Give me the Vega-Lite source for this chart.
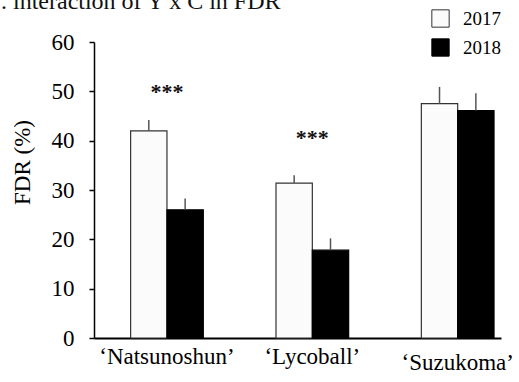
{
  "$schema": "https://vega.github.io/schema/vega-lite/v6.json",
  "width": 407,
  "height": 296,
  "autosize": {"type": "none"},
  "padding": {"left": 94, "top": 42, "right": 18, "bottom": 44},
  "background": "white",
  "config": {
    "font": "Liberation Serif",
    "view": {"stroke": null},
    "axis": {"grid": false, "labelFont": "Liberation Serif", "titleFont": "Liberation Serif"},
    "legend": {"labelFont": "Liberation Serif"},
    "text": {"font": "Liberation Serif"}
  },
  "title": {
    "text": ". interaction of Y x C in FDR",
    "anchor": "start",
    "frame": "group",
    "font": "Liberation Serif",
    "fontSize": 24,
    "fontWeight": "normal",
    "color": "#111111",
    "baseline": "alphabetic",
    "offset": 0,
    "dx": -93,
    "dy": 24
  },
  "datasets": {
    "fdr": [
      {"cultivar": "‘Natsunoshun’", "year": "2017", "fdr": 42.0, "upper": 44.2},
      {"cultivar": "‘Natsunoshun’", "year": "2018", "fdr": 26.0, "upper": 28.3},
      {"cultivar": "‘Lycoball’", "year": "2017", "fdr": 31.4, "upper": 33.0},
      {"cultivar": "‘Lycoball’", "year": "2018", "fdr": 17.8, "upper": 20.2},
      {"cultivar": "‘Suzukoma’", "year": "2017", "fdr": 47.5, "upper": 50.9},
      {"cultivar": "‘Suzukoma’", "year": "2018", "fdr": 46.1, "upper": 49.6}
    ],
    "signif": [
      {"cultivar": "‘Natsunoshun’", "pos": 49.9, "mark": "***"},
      {"cultivar": "‘Lycoball’", "pos": 40.5, "mark": "***"}
    ]
  },
  "encoding": {
    "x": {
      "field": "cultivar",
      "type": "nominal",
      "sort": ["‘Natsunoshun’", "‘Lycoball’", "‘Suzukoma’"],
      "scale": {"paddingInner": 0.5, "paddingOuter": 0.15, "align": 0.84},
      "axis": {
        "title": null,
        "ticks": false,
        "labelAngle": 0,
        "labelFont": "Liberation Serif",
        "labelFontSize": 23,
        "labelColor": "black",
        "labelPadding": {"condition": {"test": "datum.value === '‘Suzukoma’'", "value": 13}, "value": 7},
        "domainColor": "black",
        "domainWidth": 2
      }
    }
  },
  "layer": [
    {
      "data": {"name": "fdr"},
      "mark": {"type": "bar", "strokeWidth": 1.2},
      "encoding": {
        "xOffset": {"field": "year", "type": "nominal", "scale": {"paddingInner": 0, "paddingOuter": 0}},
        "y": {
          "field": "fdr",
          "type": "quantitative",
          "scale": {"domain": [0, 60], "nice": false},
          "axis": {
            "values": [0, 10, 20, 30, 40, 50, 60],
            "title": "FDR (%)",
            "titleFont": "Liberation Serif",
            "titleFontSize": 23,
            "titleFontWeight": "normal",
            "titleColor": "black",
            "titleAngle": -90,
            "titleAlign": "center",
            "titleBaseline": "middle",
            "titleX": -72,
            "titleY": 120,
            "labelFont": "Liberation Serif",
            "labelFontSize": 23,
            "labelColor": "black",
            "labelPadding": 15,
            "tickSize": 5,
            "tickColor": "black",
            "tickWidth": 1.5,
            "domainColor": "black",
            "domainWidth": 1.5
          }
        },
        "fill": {
          "field": "year",
          "type": "nominal",
          "scale": {"domain": ["2017", "2018"], "range": ["#fbfbfb", "#000000"]},
          "legend": {"orient": "none", "legendX": 337, "legendY": -33, "title": null, "symbolType": "square", "symbolSize": 300, "symbolStrokeWidth": 1, "labelFont": "Liberation Serif", "labelFontSize": 19, "labelColor": "black", "labelOffset": 13, "rowPadding": 6}
        },
        "stroke": {
          "field": "year",
          "type": "nominal",
          "scale": {"domain": ["2017", "2018"], "range": ["#333333", "#000000"]},
          "legend": {"orient": "none", "legendX": 337, "legendY": -33, "title": null, "symbolType": "square", "symbolSize": 300, "symbolStrokeWidth": 1, "labelFont": "Liberation Serif", "labelFontSize": 19, "labelColor": "black", "labelOffset": 13, "rowPadding": 6}
        }
      }
    },
    {
      "data": {"name": "fdr"},
      "mark": {"type": "rule", "color": "#555555", "strokeWidth": 1.5},
      "encoding": {
        "xOffset": {"field": "year", "type": "nominal"},
        "y": {"field": "fdr", "type": "quantitative"},
        "y2": {"field": "upper"}
      }
    },
    {
      "data": {"name": "signif"},
      "mark": {"type": "text", "font": "Liberation Serif", "fontSize": 22, "fontWeight": "bold", "baseline": "middle", "color": "#111111"},
      "encoding": {
        "y": {"field": "pos", "type": "quantitative"},
        "text": {"field": "mark"}
      }
    }
  ]
}
